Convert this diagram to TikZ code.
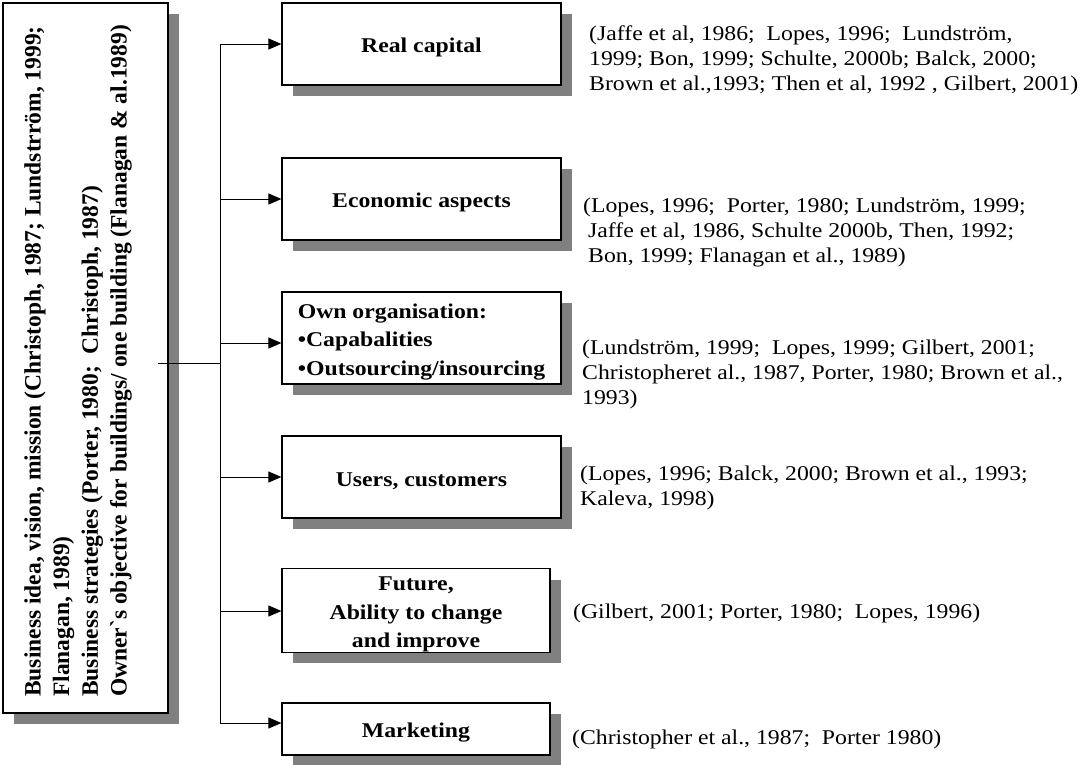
\documentclass[tikz,border=0pt]{standalone}
\usepackage{fontspec}
\setmainfont{Liberation Serif}[FakeStretch=1.13]
\newfontfamily\sidefont{Liberation Serif}
\usetikzlibrary{arrows.meta,shadows}
\definecolor{shade}{HTML}{808080}
\newcommand{\gravemark}{\XeTeXglyph\XeTeXglyphindex "grave" \relax}
\newcommand{\tallstrut}{\rule{0pt}{22pt}}
\begin{document}
\begin{tikzpicture}[x=1pt,y=-1pt,
  card/.style={draw, line width=1.2pt, fill=white, inner sep=0pt,
    font=\bfseries\fontsize{21}{28.5}\selectfont, align=center,
    general shadow={fill=shade, shadow xshift=11pt, shadow yshift=-11pt}},
  cite/.style={anchor=north west, inner sep=0pt, align=left,
    font=\fontsize{21}{25}\selectfont},
  link/.style={line width=1pt},
  arrow/.style={link, -{Triangle[length=13pt,width=11pt]}}]
\useasboundingbox (0,0) rectangle (1087,764);

% left column: goals of the organisation
\node[draw, line width=1.2pt, fill=white, inner sep=0pt,
  general shadow={fill=shade, shadow xshift=11pt, shadow yshift=-11pt},
  minimum width=165pt, minimum height=710pt] (goals) at (85.5,358) {};
\node[rotate=90, anchor=north west, inner sep=0pt, align=left,
  font=\sidefont\bfseries\fontsize{23.5}{28.7}\selectfont] (goaltext) at (24,697)
  {Business idea, vision, mission (Christoph, 1987; Lundstrröm, 1999;\\
   Flanagan, 1989)\\
   Business strategies (Porter, 1980;~ Christoph, 1987)\\
   Owner\gravemark s objective for buildings/ one building (Flanagan \& al.1989)};

% factor boxes
\node[card, minimum width=279pt, minimum height=82pt] (real) at (421.5,44)
  {\tallstrut Real capital};
\node[card, minimum width=279pt, minimum height=82pt] (econ) at (421.5,199)
  {\tallstrut Economic aspects};
\node[card, minimum width=279pt, minimum height=92pt, align=left] (own) at (421.5,338)
  {\tallstrut Own organisation:\\ •Capabalities\\ •Outsourcing/insourcing};
\node[card, minimum width=279pt, minimum height=82pt] (users) at (421.5,477)
  {\tallstrut Users, customers};
\node[card, minimum width=268pt, minimum height=83pt] (future) at (416,610.5)
  {\tallstrut Future,\\ Ability to change\\ and improve};
\node[card, minimum width=268pt, minimum height=52pt] (market) at (416,729)
  {\tallstrut Marketing};

% references
\node[cite] (refreal) at (589,25.5)
  {(Jaffe et al, 1986;~ Lopes, 1996;~ Lundström,\\
   1999; Bon, 1999; Schulte, 2000b; Balck, 2000;\\
   Brown et al.,1993; Then et al, 1992 , Gilbert, 2001)};
\node[cite] (refecon) at (583,198)
  {(Lopes, 1996;~ Porter, 1980; Lundström, 1999;\\
   \hspace*{5pt}Jaffe et al, 1986, Schulte 2000b, Then, 1992;\\
   \hspace*{5pt}Bon, 1999; Flanagan et al., 1989)};
\node[cite] (refown) at (582,340)
  {(Lundström, 1999;~ Lopes, 1999; Gilbert, 2001;\\
   Christopheret al., 1987, Porter, 1980; Brown et al.,\\
   1993)};
\node[cite] (refusers) at (580,466)
  {(Lopes, 1996; Balck, 2000; Brown et al., 1993;\\
   Kaleva, 1998)};
\node[cite] (reffuture) at (573,604)
  {(Gilbert, 2001; Porter, 1980;~ Lopes, 1996)};
\node[cite] (refmarket) at (572,730)
  {(Christopher et al., 1987;~ Porter 1980)};

% connectors
\coordinate (stem) at (158,363);
\coordinate (hub) at (220,363);
\coordinate (t1) at (220,44);
\coordinate (t2) at (220,199);
\coordinate (t3) at (220,343);
\coordinate (t4) at (220,477);
\coordinate (t5) at (220,611);
\coordinate (t6) at (220,723);
\draw[link] (stem) -- (hub);
\draw[link] (t1) -- (t6);
\draw[arrow] (t1) -- (t1 -| real.west);
\draw[arrow] (t2) -- (t2 -| econ.west);
\draw[arrow] (t3) -- (t3 -| own.west);
\draw[arrow] (t4) -- (t4 -| users.west);
\draw[arrow] (t5) -- (t5 -| future.west);
\draw[arrow] (t6) -- (t6 -| market.west);
\end{tikzpicture}
\end{document}
